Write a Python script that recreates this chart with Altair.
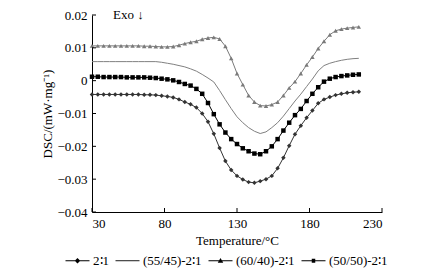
import altair as alt
import pandas as pd

temps = [30, 34, 38, 42, 46, 50, 54, 58, 62, 66, 70, 74, 78, 82, 86, 90, 94, 98,
         102, 106, 110, 114, 118, 122, 126, 130, 134, 138, 142, 146, 150, 154, 158,
         162, 166, 170, 174, 178, 182, 186, 190, 194, 198, 202, 206, 210, 214]

s_21 = [-0.0042, -0.0042, -0.0042, -0.0042, -0.0042, -0.0042, -0.0042, -0.0042, -0.0042,
        -0.0043, -0.0043, -0.0044, -0.0046, -0.0048, -0.0051, -0.0057, -0.0065, -0.0072,
        -0.0082, -0.0100, -0.0125, -0.0162, -0.0205, -0.0245, -0.0272, -0.0290, -0.0301,
        -0.0309, -0.0311, -0.0306, -0.0300, -0.0290, -0.0267, -0.0235, -0.0198, -0.0163,
        -0.0137, -0.0113, -0.0091, -0.0069, -0.0057, -0.0050, -0.0044, -0.0040, -0.0037,
        -0.0035, -0.0034]

s_5545 = [0.0058, 0.0058, 0.0058, 0.0058, 0.0058, 0.0058, 0.0058, 0.0058, 0.0058,
          0.0058, 0.0058, 0.0058, 0.0056, 0.0053, 0.0050, 0.0046, 0.0042, 0.0036,
          0.0029, 0.0019, 0.0008, -0.0004, -0.0030, -0.0058, -0.0085, -0.0110, -0.0128,
          -0.0143, -0.0154, -0.0161, -0.0156, -0.0143, -0.0128, -0.0108, -0.0085, -0.0062,
          -0.0041, -0.0018, 0.0005, 0.0030, 0.0046, 0.0053, 0.0058, 0.0062, 0.0065,
          0.0067, 0.0068]

s_6040 = [0.0106, 0.0106, 0.0106, 0.0106, 0.0106, 0.0106, 0.0106, 0.0106, 0.0106,
          0.0105, 0.0105, 0.0104, 0.0103, 0.0103, 0.0104, 0.0108, 0.0113, 0.0117,
          0.0120, 0.0126, 0.0130, 0.0132, 0.0127, 0.0105, 0.0068, 0.0022, -0.0012,
          -0.0045, -0.0065, -0.0076, -0.0077, -0.0073, -0.0065, -0.0045, -0.0022, -0.0003,
          0.0022, 0.0048, 0.0072, 0.0098, 0.0120, 0.0140, 0.0152, 0.0157, 0.0160,
          0.0162, 0.0164]

s_5050 = [0.0012, 0.0012, 0.0011, 0.0011, 0.0011, 0.0011, 0.0010, 0.0010, 0.0010,
          0.0010, 0.0009, 0.0008, 0.0006, 0.0004, 0.0001, -0.0004, -0.0010, -0.0015,
          -0.0025, -0.0040, -0.0068, -0.0102, -0.0133, -0.0158, -0.0178, -0.0193, -0.0206,
          -0.0215, -0.0222, -0.0224, -0.0215, -0.0200, -0.0178, -0.0152, -0.0128, -0.0105,
          -0.0086, -0.0062, -0.0040, -0.0020, -0.0003, 0.0006, 0.0011, 0.0014, 0.0016,
          0.0018, 0.0019]

series_names = ["2\u22361", "(55/45)-2\u22361", "(60/40)-2\u22361", "(50/50)-2\u22361"]
series_values = [s_21, s_5545, s_6040, s_5050]
series_colors = ["#333333", "#808080", "#7a7a7a", "#000000"]

x_ticks = [30, 80, 130, 180, 230]
y_ticks = [-0.04, -0.03, -0.02, -0.01, 0, 0.01, 0.02]

rows = []
for name, vals in zip(series_names, series_values):
    for t, v in zip(temps, vals):
        rows.append({"T": t, "DSC": v, "series": name})
df = pd.DataFrame(rows)

FONT = "Liberation Serif"
W, H = 290, 197
XT = "Temperature/\u00b0C"
YT = "DSC/(mW\u00b7mg\u207b\u00b9)"

xscale = alt.Scale(domain=[30, 230], nice=False, zero=False)
yscale = alt.Scale(domain=[-0.04, 0.02], nice=False, zero=False)
cscale = alt.Scale(domain=series_names, range=series_colors)

y_label_expr = ("abs(datum.value) < 1e-9 ? '0' : "
                "(datum.value < 0 ? '\u2212' : '') + format(abs(datum.value), '.2f')")

base = alt.Chart(df)

lines = base.mark_line(strokeWidth=1).encode(
    x=alt.X("T:Q", scale=xscale, title=XT,
            axis=alt.Axis(values=x_ticks, ticks=False, labelOverlap=False,
                          labelPadding=5, titlePadding=4, grid=False)),
    y=alt.Y("DSC:Q", scale=yscale, title=YT,
            axis=alt.Axis(values=y_ticks, labelExpr=y_label_expr, labelOverlap=False,
                          tickCount=7, ticks=False, labelPadding=5, titlePadding=2,
                          grid=False)),
    color=alt.Color("series:N", scale=cscale, legend=None),
    detail="series:N",
)

marker_series = [series_names[0], series_names[2], series_names[3]]
points = base.transform_filter(
    alt.FieldOneOfPredicate(field="series", oneOf=marker_series)
).mark_point(filled=True, size=20, opacity=1).encode(
    x=alt.X("T:Q", scale=xscale, title=XT),
    y=alt.Y("DSC:Q", scale=yscale, title=YT),
    color=alt.Color("series:N", scale=cscale, legend=None),
    shape=alt.Shape("series:N",
                    scale=alt.Scale(domain=marker_series,
                                    range=["diamond", "triangle-up", "square"]),
                    legend=None),
)

# legend symbols: a thin filled bar (the line) with the marker in its middle
bar = "M-1,-0.09H3.8V0.09H-1Z"
legend_paths = [
    bar + "M1.4,-0.55L1.95,0L1.4,0.55L0.85,0Z",
    bar,
    bar + "M1.4,-0.55L1.95,0.4L0.85,0.4Z",
    bar + "M1.05,-0.38H1.75V0.38H1.05Z",
]

legend_layer = base.mark_point(filled=True, size=0, opacity=1).encode(
    x=alt.X("T:Q", scale=xscale, title=XT),
    y=alt.Y("DSC:Q", scale=yscale, title=YT),
    shape=alt.Shape("series:N", scale=alt.Scale(domain=series_names, range=legend_paths),
                    legend=alt.Legend(title=None, orient="none", direction="horizontal",
                                      columns=4, legendX=-28, legendY=239,
                                      labelFont=FONT, labelFontSize=13, labelColor="black",
                                      labelOffset=16, columnPadding=5, symbolSize=100,
                                      symbolOpacity=1, symbolStrokeWidth=0)),
    fill=alt.Fill("series:N", scale=alt.Scale(domain=series_names, range=series_colors)),
)

xtick_df = pd.DataFrame({"T": x_ticks})
ytick_df = pd.DataFrame({"DSC": y_ticks})

xticks_layer = alt.Chart(xtick_df).mark_rule(color="black", strokeWidth=1).encode(
    x=alt.X("T:Q", scale=xscale, title=XT),
    y=alt.value(H),
    y2=alt.value(H - 4),
)
yticks_layer = alt.Chart(ytick_df).mark_rule(color="black", strokeWidth=1).encode(
    y=alt.Y("DSC:Q", scale=yscale, title=YT),
    x=alt.value(0),
    x2=alt.value(4),
)

exo_df = pd.DataFrame({"T": [44.5], "DSC": [0.02], "label": ["Exo \u2193"]})
exo = alt.Chart(exo_df).mark_text(font=FONT, fontSize=13, align="left",
                                  baseline="middle", color="black").encode(
    x=alt.X("T:Q", scale=xscale, title=XT),
    y=alt.Y("DSC:Q", scale=yscale, title=YT),
    text="label:N",
)

chart = alt.layer(lines, points, legend_layer, xticks_layer, yticks_layer, exo).resolve_scale(
    shape="independent"
).properties(
    width=W, height=H,
    autosize=alt.AutoSizeParams(type="none"),
    padding={"left": 92, "top": 15, "right": 43, "bottom": 63},
    background="white",
).configure_view(stroke=None).configure_axis(
    labelFont=FONT, labelFontSize=13, labelColor="black", labelOverlap=False,
    titleFont=FONT, titleFontSize=13, titleFontWeight="normal", titleColor="black",
    domainColor="black", domainWidth=1,
)

chart.save("out.html", embed_options={"renderer": "svg", "actions": False})
